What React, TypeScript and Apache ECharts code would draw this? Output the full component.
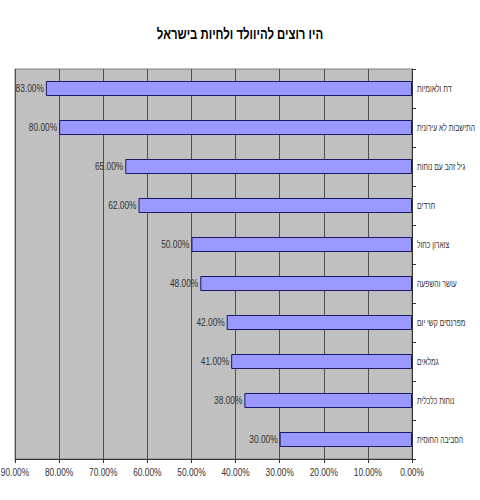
import React, { useEffect, useRef } from "react";
import * as echarts from "echarts";

const titleText = "היו רוצים להיוולד ולחיות בישראל";
const categories = [
  "דת ולאומיות",
  "התישבות לא עירונית",
  "גיל זהב עם נוחות",
  "חרדים",
  "צוארון כחול",
  "עושר והשפעה",
  "מפרנסים קשי יום",
  "גמלאים",
  "נוחות כלכלית",
  "הסביבה החוסית",
];
const values = [83, 80, 65, 62, 50, 48, 42, 41, 38, 30];
const axisMin = 0;
const axisMax = 90;
const axisStep = 10;
const tickValues = [0, 10, 20, 30, 40, 50, 60, 70, 80, 90];

const font = "'Liberation Sans', Arial, sans-serif";
const SX = 0.76;
const SX_CAT = 0.68;

const pct = (v: number) => v.toFixed(2) + "%";

export default function App() {
  const ref = useRef<HTMLDivElement>(null);
  useEffect(() => {
    document.body.style.margin = "0";
    const chart = echarts.init(ref.current!, null, { renderer: "svg" });
    chart.setOption({
      animation: false,
      backgroundColor: "#ffffff",
      grid: {
        left: 15,
        right: 68,
        top: 69,
        bottom: 41,
        outerBoundsMode: "none",
        containLabel: false,
        show: true,
        backgroundColor: "#C0C0C0",
        borderColor: "#808080",
        borderWidth: 1,
      },
      xAxis: {
        type: "value",
        inverse: true,
        min: axisMin,
        max: axisMax,
        interval: axisStep,
        axisLine: { show: true, lineStyle: { color: "#333", width: 1 } },
        axisTick: { show: true, length: 4, lineStyle: { color: "#333" } },
        axisLabel: { show: false },
        splitLine: { show: true, lineStyle: { color: "#505050", width: 1 } },
      },
      yAxis: {
        type: "category",
        position: "right",
        inverse: true,
        data: categories,
        axisLine: { show: true, lineStyle: { color: "#333", width: 1 } },
        axisTick: { show: true, length: 4, alignWithLabel: false, lineStyle: { color: "#333" } },
        axisLabel: { show: false },
        splitLine: { show: false },
      },
      series: [
        {
          type: "bar",
          data: values,
          barWidth: 15,
          itemStyle: { color: "#9999FF", borderColor: "#1a1a66", borderWidth: 1 },
          label: { show: false },
        },
      ],
    });

    const graphics: any[] = [];
    graphics.push({
      type: "text",
      x: 240,
      y: 34,
      scaleX: SX,
      style: {
        text: titleText,
        font: "bold 15px " + font,
        fill: "#000",
        textAlign: "center",
        textVerticalAlign: "middle",
      },
    });
    const gridRect = { right: 480 - 68, bottom: 500 - 41 };
    tickValues.forEach((v) => {
      const px = chart.convertToPixel({ xAxisIndex: 0 }, v) as number;
      graphics.push({
        type: "text",
        x: px,
        y: gridRect.bottom + 13,
        scaleX: SX,
        style: {
          text: pct(v),
          font: "11px " + font,
          fill: "#333",
          textAlign: "center",
          textVerticalAlign: "middle",
        },
      });
    });
    categories.forEach((c, i) => {
      const py = chart.convertToPixel({ yAxisIndex: 0 }, i) as number;
      graphics.push({
        type: "text",
        x: gridRect.right + 5,
        y: py,
        scaleX: SX_CAT,
        style: {
          text: c,
          font: "10px " + font,
          fill: "#333",
          textAlign: "left",
          textVerticalAlign: "middle",
        },
      });
      const p = chart.convertToPixel({ gridIndex: 0 }, [values[i], i]) as number[];
      graphics.push({
        type: "text",
        x: p[0] - 2,
        y: p[1],
        scaleX: SX,
        style: {
          text: pct(values[i]),
          font: "11px " + font,
          fill: "#333",
          textAlign: "right",
          textVerticalAlign: "middle",
        },
      });
    });
    chart.setOption({ graphic: graphics });
    return () => chart.dispose();
  }, []);
  return <div ref={ref} style={{ width: 480, height: 500 }} />;
}
